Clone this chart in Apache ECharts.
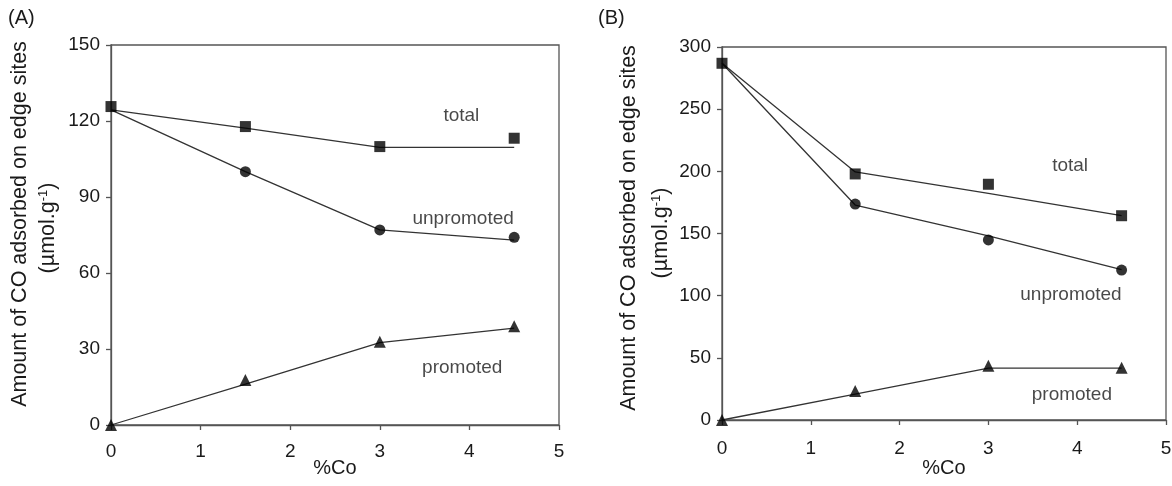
<!DOCTYPE html>
<html><head><meta charset="utf-8">
<script src="https://cdn.jsdelivr.net/npm/echarts@6/dist/echarts.min.js"></script>
<style>html,body{margin:0;padding:0;background:#fff}#c{width:1172px;height:486px}</style>
</head><body><div id="c"></div>
<script>
const xCo = [0, 1.5, 3, 4.5];
// Panel A markers
const aTotal = [125.7, 117.8, 109.9, 113.2];
const aUnpromoted = [null, 100.0, 77.0, 74.1];
const aPromoted = [0, 17.8, 32.9, 39.0];
// Panel A fitted lines
const aTotalLine = [124.4, 117.2, 109.6, 109.6];
const aUnpromotedLine = [124.4, 100.0, 77.0, 73.0];
const aPromotedLine = [0, 16.1, 32.5, 38.2];
// Panel B markers
const bTotal = [286.9, 197.9, 189.6, 164.3];
const bUnpromoted = [null, 173.7, 144.8, 120.6];
const bPromoted = [0, 23.3, 43.7, 42.1];
// Panel B fitted lines
const bTotalLine = [286.9, 199.5, 182.3, 164.3];
const bUnpromotedLine = [286.9, 172.9, 148.0, 121.0];
const bPromotedLine = [0, 20.9, 41.8, 41.8];
// annotation labels [x, y, text]
const aLabels = [[3.91, 122, 'total'], [3.93, 81.6, 'unpromoted'], [3.92, 22.6, 'promoted']];
const bLabels = [[3.92, 204.3, 'total'], [3.93, 100.5, 'unpromoted'], [3.94, 20.1, 'promoted']];

const FONT = '"Liberation Sans", Arial, sans-serif';
const TXT = '#1a1a1a';
const AX = '#555';

function pairs(ys){ return xCo.map((x,i)=>[x, ys[i]]).filter(p=>p[1]!==null); }

function axes(gi, yMax, yInt, lblMargin, nGap){
  return {
    x: {type:'value', gridIndex:gi, min:0, max:5, interval:1,
        name:'%Co', nameLocation:'middle', nameGap:nGap, nameMoveOverlap:false,
        nameTextStyle:{fontFamily:FONT, fontSize:20, color:TXT},
        axisLine:{show:true, onZero:false, lineStyle:{color:AX, width:1.3}},
        axisTick:{show:true, inside:false, length:5, lineStyle:{color:AX, width:1.3}},
        axisLabel:{fontFamily:FONT, fontSize:19, color:TXT, margin:lblMargin},
        splitLine:{show:false}},
    y: {type:'value', gridIndex:gi, min:0, max:yMax, interval:yInt,
        axisLine:{show:true, onZero:false, lineStyle:{color:AX, width:1.3}},
        axisTick:{show:true, inside:false, length:5, lineStyle:{color:AX, width:1.3}},
        axisLabel:{fontFamily:FONT, fontSize:19, color:TXT, margin:11},
        splitLine:{show:false}}
  };
}
const A = axes(0, 150, 30, 17, 33), B = axes(1, 300, 50, 19, 38);

function lineS(gi, ys){ return {type:'line', xAxisIndex:gi, yAxisIndex:gi, data:pairs(ys), symbol:'none',
  lineStyle:{color:'#333', width:1.3}, silent:true, z:2}; }
function markS(gi, ys, sym, size){ return {type:'scatter', xAxisIndex:gi, yAxisIndex:gi, data:pairs(ys),
  symbol:sym, symbolSize:size, itemStyle:{color:'#000'}, silent:true, z:3}; }
function labS(gi, labs){ return {type:'scatter', xAxisIndex:gi, yAxisIndex:gi, symbolSize:0,
  data:labs.map(l=>({value:[l[0], l[1]], name:l[2]})),
  label:{show:true, position:'inside', formatter:p=>p.name, fontFamily:FONT, fontSize:19, color:TXT}, silent:true}; }

const chart = echarts.init(document.getElementById('c'), null, {renderer:'canvas'});
chart.setOption({
  animation:false,
  backgroundColor:'#fff',
  grid:[
    {left:111, right:613, top:45, bottom:61, show:true, borderColor:AX, borderWidth:1.3, containLabel:false, outerBoundsMode:'none'},
    {left:722, right:6, top:47, bottom:66, show:true, borderColor:AX, borderWidth:1.3, containLabel:false, outerBoundsMode:'none'}
  ],
  xAxis:[A.x, B.x],
  yAxis:[A.y, B.y],
  series:[
    lineS(0, aTotalLine), lineS(0, aUnpromotedLine), lineS(0, aPromotedLine),
    markS(0, aTotal, 'rect', 11), markS(0, aUnpromoted, 'circle', 11), markS(0, aPromoted, 'triangle', 12),
    labS(0, aLabels),
    lineS(1, bTotalLine), lineS(1, bUnpromotedLine), lineS(1, bPromotedLine),
    markS(1, bTotal, 'rect', 11), markS(1, bUnpromoted, 'circle', 11), markS(1, bPromoted, 'triangle', 12),
    labS(1, bLabels)
  ],
  graphic:[
    {type:'text', left:8, top:8, style:{text:'(A)', font:'20px '+FONT, fill:TXT}},
    {type:'text', left:598, top:8, style:{text:'(B)', font:'20px '+FONT, fill:TXT}},
    {type:'text', x:20, y:224, rotation:Math.PI/2, style:{text:'Amount of CO adsorbed on edge sites', font:'21.5px '+FONT, fill:TXT, align:'center', verticalAlign:'middle'}},
    {type:'text', x:48, y:228, rotation:Math.PI/2, style:{text:'(µmol.g{s|-1})', font:'21.5px '+FONT, fill:TXT, align:'center', verticalAlign:'middle',
      rich:{s:{fontSize:13, fontFamily:FONT, fill:TXT, verticalAlign:'top', padding:[0,0,10,0]}}}},
    {type:'text', x:629, y:228, rotation:Math.PI/2, style:{text:'Amount of CO adsorbed on edge sites', font:'21.5px '+FONT, fill:TXT, align:'center', verticalAlign:'middle'}},
    {type:'text', x:661, y:233, rotation:Math.PI/2, style:{text:'(µmol.g{s|-1})', font:'21.5px '+FONT, fill:TXT, align:'center', verticalAlign:'middle',
      rich:{s:{fontSize:13, fontFamily:FONT, fill:TXT, verticalAlign:'top', padding:[0,0,10,0]}}}}
  ]
});
</script></body></html>
